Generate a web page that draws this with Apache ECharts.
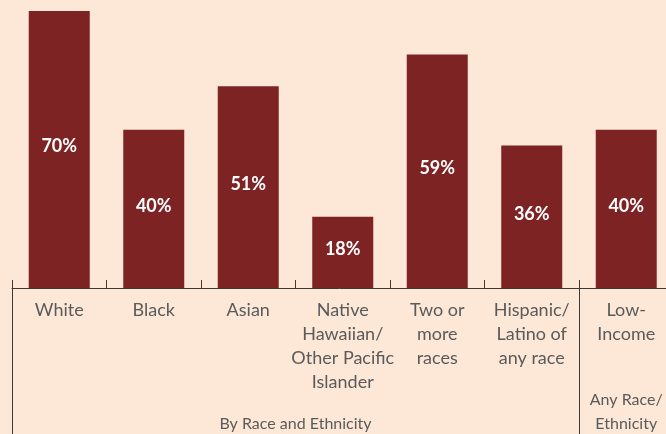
<!DOCTYPE html>
<html>
<head>
<meta charset="utf-8">
<script src="https://cdn.jsdelivr.net/npm/echarts@6/dist/echarts.min.js"></script>
<style>
html,body{margin:0;padding:0;background:#fde8d7;}
#c{width:666px;height:434px;}
</style>
</head>
<body>
<div id="c"></div>
<script>
var categories = ['White', 'Black', 'Asian', 'Native\nHawaiian/\nOther Pacific\nIslander', 'Two or\nmore\nraces', 'Hispanic/\nLatino of\nany race', 'Low-\nIncome'];
var values = [70, 40, 51, 18, 59, 36, 40];
var groupLabels = ['By Race and Ethnicity', 'Any Race/\nEthnicity'];
var groupCenters = [3, 6.5];
var groupDividers = [0, 6];

var FONT = 'Lato';
var chart = echarts.init(document.getElementById('c'), null, {renderer: 'canvas'});
chart.setOption({
  backgroundColor: '#fde8d7',
  animation: false,
  grid: {left: 12, right: -7.5, top: 11, bottom: 146, containLabel: false, outerBoundsMode: 'none'},
  xAxis: [{
    type: 'category',
    data: categories,
    boundaryGap: true,
    axisLine: {show: true, lineStyle: {color: '#3a3a3a', width: 1}},
    axisTick: {show: true, inside: true, length: 8, alignWithLabel: false, lineStyle: {color: '#3a3a3a', width: 1}},
    axisLabel: {interval: 0, color: '#5a5a5a', fontFamily: FONT, fontSize: 18, lineHeight: 24, margin: 10}
  }, {
    type: 'value',
    min: 0,
    max: 7,
    position: 'bottom',
    axisLine: {show: false},
    splitLine: {show: false},
    axisTick: {show: true, length: 146, customValues: groupDividers, lineStyle: {color: '#3a3a3a', width: 1}},
    axisLabel: {
      customValues: groupCenters,
      color: '#5a5a5a', fontFamily: FONT, fontSize: 16, lineHeight: 24, margin: 100,
      formatter: function (v) {
        var i = groupCenters.indexOf(v);
        var t = i >= 0 ? groupLabels[i] : '';
        return t.indexOf('\n') < 0 ? '\n' + t : t;
      }
    }
  }],
  yAxis: {type: 'value', min: 0, max: 70, show: false},
  series: [{
    type: 'bar',
    data: values,
    xAxisIndex: 0,
    barWidth: 61,
    itemStyle: {color: '#7e2324'},
    label: {show: true, position: 'inside', formatter: '{c}%', color: '#fff', fontFamily: FONT, fontWeight: 'bold', fontSize: 18, offset: [0, -3]}
  }]
});
</script>
</body>
</html>
